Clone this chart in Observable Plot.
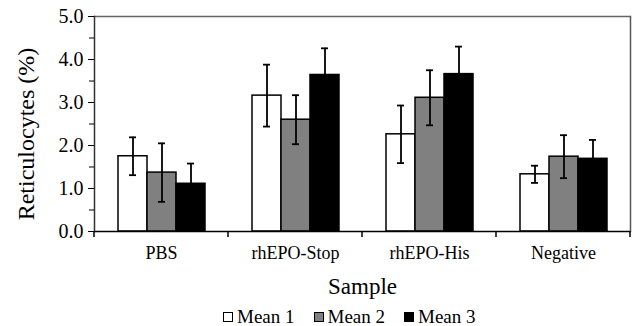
<!DOCTYPE html>
<html>
<head>
<meta charset="utf-8">
<script src="https://cdn.jsdelivr.net/npm/d3@7"></script>
<script src="https://cdn.jsdelivr.net/npm/@observablehq/plot@0.6"></script>
<style>
  html, body { margin: 0; padding: 0; background: white; }
  #chart { width: 632px; font-family: "Liberation Serif", "Times New Roman", serif; }
  #chart svg text { font-family: "Liberation Serif", "Times New Roman", serif; }
  #legend { height: 26px; display: flex; align-items: center; padding-left: 223px; padding-top: 8px; font-size: 19px; color: black; box-sizing: border-box; }
  .item { display: flex; align-items: center; margin-right: 19px; }
  .sw { width: 8px; height: 8px; border: 1.5px solid black; margin-right: 4px; }
</style>
</head>
<body>
<div id="chart"></div>
<script>
const samples = ["PBS", "rhEPO-Stop", "rhEPO-His", "Negative"];
const series = ["Mean 1", "Mean 2", "Mean 3"];
const mean1 = [1.75, 3.16, 2.26, 1.33];
const mean2 = [1.37, 2.60, 3.11, 1.74];
const mean3 = [1.11, 3.64, 3.66, 1.69];
const err1 = [0.44, 0.72, 0.67, 0.20];
const err2 = [0.68, 0.57, 0.64, 0.50];
const err3 = [0.47, 0.62, 0.64, 0.44];
const seriesColors = ["white", "#808080", "black"];
const yTicks = [0, 1, 2, 3, 4, 5];
const yMinorTicks = [0.5, 1.5, 2.5, 3.5, 4.5];
const yLabel = "Reticulocytes (%)";
const xLabel = "Sample";

const means = [mean1, mean2, mean3];
const errs = [err1, err2, err3];
const data = [];
samples.forEach((s, i) => series.forEach((k, j) => data.push({sample: s, series: k, mean: means[j][i], err: errs[j][i]})));

const plot = Plot.plot({
  width: 632,
  height: 300,
  marginTop: 16,
  marginBottom: 69,
  marginLeft: 92,
  marginRight: 1,
  style: "font-family: 'Liberation Serif', serif; font-size: 18px; color: black; background: white;",
  fx: {domain: samples, padding: 0, axis: null},
  x: {domain: series, paddingInner: 0, paddingOuter: 0.75, axis: null},
  y: {domain: [0, 5]},
  color: {domain: series, range: seriesColors},
  marks: [
    Plot.ruleY([5], {stroke: "#666", strokeWidth: 1.5}),
    Plot.frame({anchor: "right", facetAnchor: "right", stroke: "#555", strokeWidth: 1.5}),
    Plot.barY(data, {fx: "sample", x: "series", y: "mean", fill: "series", stroke: "black", strokeWidth: 1.5}),
    Plot.ruleX(data, {fx: "sample", x: "series", y1: d => d.mean - d.err, y2: d => d.mean + d.err, stroke: "black", strokeWidth: 1.8}),
    Plot.tickY(data, {fx: "sample", x: "series", y: d => d.mean + d.err, insetLeft: 11, insetRight: 11, stroke: "black", strokeWidth: 1.8}),
    Plot.tickY(data, {fx: "sample", x: "series", y: d => d.mean - d.err, insetLeft: 11, insetRight: 11, stroke: "black", strokeWidth: 1.8}),
    Plot.ruleY([0], {stroke: "black", strokeWidth: 1.5}),
    Plot.frame({anchor: "left", facetAnchor: "left", stroke: "#333", strokeWidth: 1.5}),
    Plot.axisY({ticks: yTicks, tickFormat: d => d.toFixed(1), tickSize: 6, tickPadding: 5, fontSize: 20, label: yLabel, labelAnchor: "center", labelArrow: "none", labelOffset: 78}),
    Plot.axisY({ticks: yMinorTicks, tickFormat: () => "", tickSize: 5, label: null}),
    Plot.axisFx({anchor: "bottom", tickSize: 0, tickPadding: 15, fontSize: 18, label: xLabel, labelAnchor: "center", labelArrow: "none", labelOffset: 62})
  ]
});

// enlarge axis titles
const texts = d3.select(plot).selectAll("text");
texts.filter(function() { return this.textContent === yLabel; })
  .style("font-size", "24px")
  .attr("transform", function() { return "translate(0,10) " + (this.getAttribute("transform") || ""); });
texts.filter(function() { return this.textContent === xLabel; }).style("font-size", "23px");

// category boundary ticks on the bottom axis, placed with the fx scale
const fx = plot.scale("fx");
const y = plot.scale("y");
const y0 = y.apply(0);
const bounds = samples.map(s => fx.apply(s)).concat([fx.apply(samples[samples.length - 1]) + fx.bandwidth]);
d3.select(plot).append("g").attr("aria-label", "category ticks")
  .selectAll("line").data(bounds).join("line")
  .attr("x1", d => d).attr("x2", d => d)
  .attr("y1", y0).attr("y2", y0 + 6)
  .attr("stroke", "black").attr("stroke-width", 1.5);

document.getElementById("chart").appendChild(plot);

const legend = document.createElement("div");
legend.id = "legend";
series.forEach((k, j) => {
  const item = document.createElement("div");
  item.className = "item";
  const sw = document.createElement("div");
  sw.className = "sw";
  sw.style.background = seriesColors[j];
  const t = document.createElement("span");
  t.textContent = k;
  item.appendChild(sw); item.appendChild(t);
  legend.appendChild(item);
});
document.getElementById("chart").appendChild(legend);
</script>
</body>
</html>
